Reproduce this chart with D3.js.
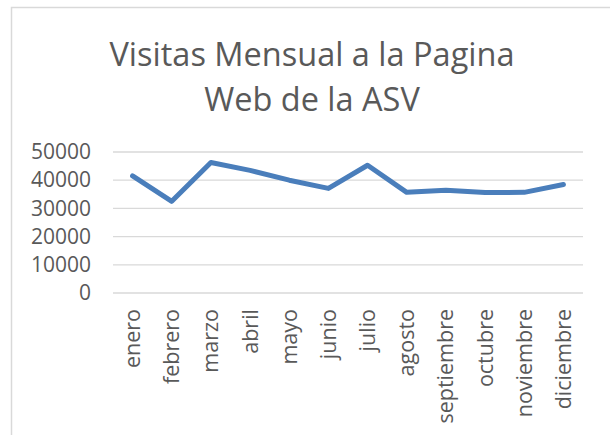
<!doctype html>
<html lang="es">
<head>
<meta charset="utf-8">
<script src="https://cdn.jsdelivr.net/npm/d3@7"></script>
<style>
	body{ margin:0; padding:0; background:#fff; }
	svg text{ font-family:"Open Sans", sans-serif; fill:#595959; }
</style>
</head>
<body>
<svg id="chartSvg"></svg>
<script>
var meses = ["enero","febrero","marzo","abril","mayo","junio","julio","agosto","septiembre","octubre","noviembre","diciembre"];
var visitas = [41500,32500,46300,43500,40000,37100,45300,35700,36400,35600,35700,38500];
var yTicks = [0,10000,20000,30000,40000,50000];
var titulo = ["Visitas Mensual a la Pagina","Web de la ASV"];

var width = 610, height = 435;
// plot area (named so it doesn't clash with window.top)
var pLeft = 113, pRight = 583, pTop = 152, pBottom = 293;

var svg = d3.select("#chartSvg").attr("width", width).attr("height", height);

// chart area border (only top/left visible in the crop)
svg.append("rect")
	.attr("x", 11.5).attr("y", 7.5)
	.attr("width", 700).attr("height", 500)
	.attr("fill", "none")
	.attr("stroke", "#d9d9d9")
	.attr("stroke-width", 1.5);

// title
svg.append("g").selectAll("text")
	.data(titulo)
	.enter().append("text")
	.attr("x", 312)
	.attr("y", function(d,i){ return 66 + i*45; })
	.attr("text-anchor", "middle")
	.attr("font-size", 32.5)
	.text(function(d){ return d; });

var xScale = d3.scaleBand().domain(meses).range([pLeft, pRight]);
var yScale = d3.scaleLinear().domain([0, 50000]).range([pBottom, pTop]);

// gridlines
svg.append("g")
	.selectAll("line")
	.data(yTicks)
	.enter().append("line")
	.attr("x1", pLeft).attr("x2", pRight)
	.attr("y1", function(d){ return yScale(d); })
	.attr("y2", function(d){ return yScale(d); })
	.style("stroke", "#d9d9d9")
	.style("stroke-width", 1.3);

// y axis labels
var yAxis = d3.axisLeft(yScale).tickValues(yTicks).tickSize(0).tickPadding(0).tickFormat(d3.format("d"));
var gy = svg.append("g").attr("transform", "translate(91,0)").call(yAxis);
gy.select(".domain").remove();
gy.selectAll("text").attr("font-size", 21).attr("fill", "#595959").style("font-family", "'Open Sans', sans-serif");

// x axis labels (vertical)
var xAxis = d3.axisBottom(xScale).tickSize(0).tickPadding(0);
var gx = svg.append("g").attr("transform", "translate(0," + pBottom + ")").call(xAxis);
gx.select(".domain").remove();
gx.selectAll("text")
	.attr("font-size", 21.5)
	.attr("fill", "#595959")
	.style("font-family", "'Open Sans', sans-serif")
	.attr("transform", "rotate(-90)")
	.attr("x", -16)
	.attr("y", 0)
	.attr("dy", "0.35em")
	.attr("text-anchor", "end");

// line
var line = d3.line()
	.x(function(d,i){ return xScale(meses[i]) + xScale.bandwidth()/2; })
	.y(function(d){ return yScale(d); });

svg.append("path")
	.datum(visitas)
	.attr("d", line)
	.attr("fill", "none")
	.attr("stroke", "#4a7ebb")
	.attr("stroke-width", 5)
	.attr("stroke-linejoin", "round")
	.attr("stroke-linecap", "round");
</script>
</body>
</html>
